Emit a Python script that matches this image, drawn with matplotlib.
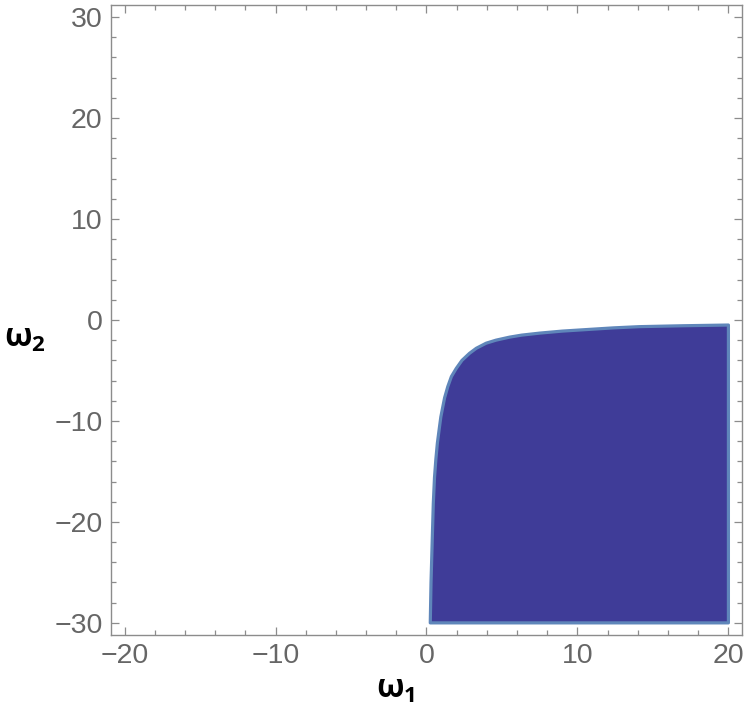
import numpy as np
import matplotlib.pyplot as plt

plt.rcParams['font.family'] = ['Liberation Sans', 'DejaVu Sans']
plt.rcParams['mathtext.fontset'] = 'custom'
plt.rcParams['mathtext.bf'] = 'Open Sans:bold'
plt.rcParams['mathtext.rm'] = 'Open Sans:bold'

# boundary of the region (upper-left curve)
w1_curve = [0.25, 0.30, 0.38, 0.45, 0.53, 0.62, 0.72, 0.86, 0.95, 1.08, 1.2, 1.41, 1.65, 1.97,
            2.35, 2.85, 3.3, 3.95, 4.6, 5.5, 6.3, 7.5, 9.0, 10.8, 12.4, 14.1, 17.0, 20.0]
w2_curve = [-30.0, -26.0, -21.8, -18.2, -15.6, -13.8, -12.2, -10.6, -9.6, -8.6, -7.7, -6.6, -5.6, -4.8,
            -4.0, -3.3, -2.8, -2.3, -2.0, -1.7, -1.5, -1.3, -1.1, -0.93, -0.78, -0.66, -0.57, -0.5]
w1_max = 20.0
w2_min = -30.0

xticks = [-20, -10, 0, 10, 20]
yticks = [-30, -20, -10, 0, 10, 20, 30]

fig = plt.figure(figsize=(7.47, 7.11), dpi=100)
ax = fig.add_axes([0.1486, 0.1069, 0.8447, 0.8861])

xs = w1_curve + [w1_max]
ys = w2_curve + [w2_min]
ax.fill(xs, ys, facecolor='#3f3c98', edgecolor='#5f86ba', linewidth=2.3, joinstyle='round')

ax.set_xlim(-20.9, 20.9)
ax.set_ylim(-31.2, 31.2)
ax.set_xticks(xticks)
ax.set_yticks(yticks)
ax.set_xticklabels([str(t).replace('-', '\u2212') for t in xticks])
ax.set_yticklabels([str(t).replace('-', '\u2212') for t in yticks])
ax.set_xticks(np.arange(-20, 21, 2), minor=True)
ax.set_yticks(np.arange(-30, 31, 2), minor=True)

for s in ax.spines.values():
    s.set_color('#8c8c8c')
    s.set_linewidth(1.0)
ax.tick_params(which='both', direction='in', top=True, right=True, color='#8c8c8c', width=0.9)
ax.tick_params(which='major', length=6, labelsize=20.5, labelcolor='#666666', pad=6)
ax.tick_params(which='minor', length=3.5)

fig.text(0.033, 0.523, r'$\mathbf{\omega_2}$', fontsize=23, color='black', ha='center', va='center')
fig.text(0.53, 0.03, r'$\mathbf{\omega_1}$', fontsize=23, color='black', ha='center', va='center')

fig.savefig('out.png', dpi=100)
